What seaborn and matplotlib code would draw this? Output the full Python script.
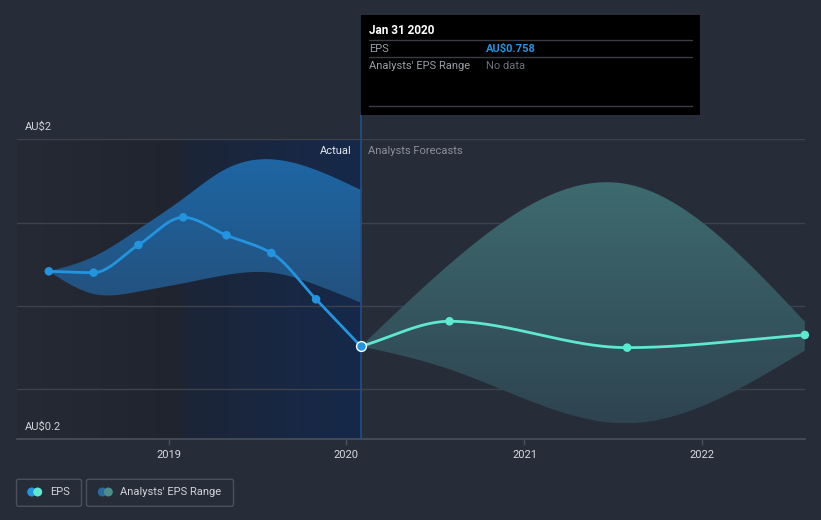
import numpy as np
import pandas as pd
import matplotlib
matplotlib.use("Agg")
import matplotlib.pyplot as plt
import matplotlib.dates as mdates
from matplotlib.patches import FancyBboxPatch, Ellipse, Rectangle
from matplotlib.lines import Line2D
import seaborn as sns

# ---------------- data ----------------
actual_dates = ["2018-04-30", "2018-07-31", "2018-10-31", "2019-01-31",
                "2019-04-30", "2019-07-31", "2019-10-31", "2020-01-31"]
actual_eps = [1.208, 1.200, 1.366, 1.532, 1.424, 1.318, 1.040, 0.758]
actual_low = [1.208, 1.072, 1.086, 1.136, 1.186, 1.200, 1.126, 1.020]
actual_high = [1.208, 1.296, 1.460, 1.644, 1.824, 1.880, 1.816, 1.696]

fc_dates = ["2020-01-31", "2020-07-31", "2021-07-31", "2022-07-31"]
fc_eps = [0.758, 0.908, 0.750, 0.826]
fc_low = [0.758, 0.620, 0.296, 0.732]
fc_high = [0.758, 1.250, 1.731, 0.906]

year_ticks = ["2019-01-01", "2020-01-01", "2021-01-01", "2022-01-01"]
year_labels = ["2019", "2020", "2021", "2022"]
y_labels = ["AU$2", "AU$0.2"]
tooltip_date = "Jan 31 2020"
tooltip_eps = "AU$0.758"

# ---------------- helpers ----------------
def pchip(x, y, xn):
    x = np.asarray(x, float); y = np.asarray(y, float)
    h = np.diff(x); d = np.diff(y) / h
    n = len(x); m = np.zeros(n)
    for k in range(1, n - 1):
        if d[k - 1] * d[k] > 0:
            w1 = 2 * h[k] + h[k - 1]; w2 = h[k] + 2 * h[k - 1]
            m[k] = (w1 + w2) / (w1 / d[k - 1] + w2 / d[k])
    m[0] = d[0]; m[-1] = d[-1]
    idx = np.clip(np.searchsorted(x, xn) - 1, 0, n - 2)
    t = (xn - x[idx]) / h[idx]
    h00 = 2 * t**3 - 3 * t**2 + 1; h10 = t**3 - 2 * t**2 + t
    h01 = -2 * t**3 + 3 * t**2; h11 = t**3 - t**2
    return h00 * y[idx] + h10 * h[idx] * m[idx] + h01 * y[idx + 1] + h11 * h[idx] * m[idx + 1]

def natspline(x, y, xn):
    x = np.asarray(x, float); y = np.asarray(y, float)
    n = len(x); h = np.diff(x)
    A = np.zeros((n, n)); r = np.zeros(n)
    A[0, 0] = 1; A[-1, -1] = 1
    for i in range(1, n - 1):
        A[i, i - 1] = h[i - 1]; A[i, i] = 2 * (h[i - 1] + h[i]); A[i, i + 1] = h[i]
        r[i] = 6 * ((y[i + 1] - y[i]) / h[i] - (y[i] - y[i - 1]) / h[i - 1])
    M = np.linalg.solve(A, r)
    idx = np.clip(np.searchsorted(x, xn) - 1, 0, n - 2)
    xi, xi1, hi = x[idx], x[idx + 1], h[idx]
    return (M[idx] * (xi1 - xn)**3 / (6 * hi) + M[idx + 1] * (xn - xi)**3 / (6 * hi)
            + (y[idx] / hi - M[idx] * hi / 6) * (xi1 - xn)
            + (y[idx + 1] / hi - M[idx + 1] * hi / 6) * (xn - xi))

def hexrgb(c):
    c = c.lstrip("#")
    return np.array([int(c[i:i + 2], 16) / 255 for i in (0, 2, 4)])

ax_num = mdates.date2num(pd.to_datetime(actual_dates))
fc_num = mdates.date2num(pd.to_datetime(fc_dates))
tick_num = mdates.date2num(pd.to_datetime(year_ticks))

xa = np.linspace(ax_num[0], ax_num[-1], 400)
xf = np.linspace(fc_num[0], fc_num[-1], 400)

df_a = pd.DataFrame({"x": xa, "y": pchip(ax_num, actual_eps, xa)})
df_f = pd.DataFrame({"x": xf, "y": pchip(fc_num, fc_eps, xf)})
a_lo = natspline(ax_num, actual_low, xa); a_hi = natspline(ax_num, actual_high, xa)
f_lo = natspline(fc_num, fc_low, xf); f_hi = natspline(fc_num, fc_high, xf)

# ---------------- figure ----------------
BG = "#262c38"
sns.set_style("dark")
plt.rcParams["font.family"] = ["Roboto", "DejaVu Sans"]
fig = plt.figure(figsize=(8.21, 5.2), dpi=100, facecolor=BG)
W, H = 821, 520
L, R, T, B = 17, 805, 139.3, 439.3
ax = fig.add_axes([L / W, 1 - B / H, (R - L) / W, (B - T) / H])
ax.set_facecolor(BG)

x0 = tick_num[0] - (168.6 - L) / 177.8 * 365.25
x1 = tick_num[0] + (R - 168.6) / 177.8 * 365.25
ax.set_xlim(x0, x1)
ax.set_ylim(0.2, 2.0)

def hgrad(ax, xa_, xb_, c1, c2, z=0):
    g = np.linspace(0, 1, 256)[None, :, None]
    img = hexrgb(c1)[None, None, :] * (1 - g) + hexrgb(c2)[None, None, :] * g
    ax.imshow(img, extent=[xa_, xb_, 0.2, 2.0], aspect="auto", zorder=z, origin="lower")

hgrad(ax, x0, ax_num[3], "#252a35", "#20242e")
hgrad(ax, ax_num[3], ax_num[-1], "#1c2537", "#16294a")

for v in [2.0, 1.5, 1.0, 0.5]:
    ax.axhline(v, color="#3c424e", lw=1, zorder=1)

def vgrad_band(ax, x, lo, hi, ctop, cbot, z=2):
    poly = ax.fill_between(x, lo, hi, color="none", lw=0, zorder=z)
    g = np.linspace(0, 1, 256)[:, None, None]
    img = hexrgb(cbot)[None, None, :] * (1 - g) + hexrgb(ctop)[None, None, :] * g
    im = ax.imshow(img, extent=[x.min(), x.max(), lo.min(), hi.max()], aspect="auto",
                   origin="lower", zorder=z)
    im.set_clip_path(poly.get_paths()[0], transform=ax.transData)

vgrad_band(ax, xa, a_lo, a_hi, "#1e66a4", "#23517d")
vgrad_band(ax, xf, f_lo, f_hi, "#3e6b6f", "#2e4450")

ax.axvline(ax_num[-1], ymin=0, ymax=(B - 115) / (B - T), color="#1f4f8a", lw=1.2,
           zorder=3, clip_on=False)

sns.lineplot(data=df_a, x="x", y="y", ax=ax, color="#2394df", lw=2.0, zorder=5)
sns.lineplot(data=df_f, x="x", y="y", ax=ax, color="#5ee8d0", lw=2.0, zorder=5)
pts_a = pd.DataFrame({"x": ax_num[:-1], "y": actual_eps[:-1]})
pts_f = pd.DataFrame({"x": fc_num[1:], "y": fc_eps[1:]})
sns.scatterplot(data=pts_a, x="x", y="y", ax=ax, color="#2394df", s=38,
                edgecolor="none", zorder=6)
sns.scatterplot(data=pts_f, x="x", y="y", ax=ax, color="#5ee8d0", s=38,
                edgecolor="none", zorder=6, clip_on=False)
ax.scatter([ax_num[-1]], [actual_eps[-1]], s=50, color="#2394df",
           edgecolor="white", linewidth=1.0, zorder=7)

for s in ["top", "right", "left"]:
    ax.spines[s].set_visible(False)
ax.spines["bottom"].set_color("#4a505c")
ax.spines["bottom"].set_linewidth(1.2)
ax.set_xticks(tick_num)
ax.set_xticklabels(year_labels)
ax.set_yticks([])
ax.tick_params(axis="x", colors="#4a505c", length=4, width=1, labelcolor="#d8dbe0",
               labelsize=8, pad=4, bottom=True)
ax.set_xlabel(""); ax.set_ylabel("")
ax.grid(False)

def ftext(px, py, s, **kw):
    fig.text(px / W, 1 - py / H, s, **kw)

ftext(25, 127, y_labels[0], color="#d0d3d8", fontsize=8, va="center", ha="left")
ftext(25, 427, y_labels[1], color="#d0d3d8", fontsize=8, va="center", ha="left")
ftext(352, 151, "Actual", color="#e4e7ec", fontsize=8, va="center", ha="right")
ftext(368, 151, "Analysts Forecasts", color="#8b9099", fontsize=8, va="center", ha="left")

fig.patches.append(Rectangle((361 / W, 1 - 115 / H), 339 / W, 100 / H,
                             transform=fig.transFigure, facecolor="#000000",
                             edgecolor="none", zorder=10))
for yy in [40, 57.3, 105.7]:
    fig.add_artist(Line2D([369 / W, 692 / W], [1 - yy / H, 1 - yy / H],
                          transform=fig.transFigure, color="#3a3d44", lw=1, zorder=11))
ftext(369, 31, tooltip_date, color="white", fontsize=8.5, fontweight="bold",
      va="center", zorder=12)
ftext(369, 48.5, "EPS", color="#9aa0a8", fontsize=8, va="center", zorder=12)
ftext(486, 48.5, tooltip_eps, color="#2394df", fontsize=8, fontweight="bold",
      va="center", zorder=12)
ftext(369, 66, "Analysts' EPS Range", color="#9aa0a8", fontsize=8, va="center", zorder=12)
ftext(486, 66, "No data", color="#6c717a", fontsize=8, va="center", zorder=12)

for (bx0, bx1) in [(16.5, 81.5), (86.5, 233.5)]:
    fig.patches.append(FancyBboxPatch((bx0 / W, 1 - 506.3 / H), (bx1 - bx0) / W, 27 / H,
                                      boxstyle="round,pad=0,rounding_size=0.003",
                                      transform=fig.transFigure, facecolor="none",
                                      edgecolor="#4a505c", lw=1))
for cx, col in [(31.7, "#2394df"), (37.7, "#5ee8d0"), (102.3, "#2a6a9e"), (108.3, "#4a8e8a")]:
    fig.patches.append(Ellipse((cx / W, 1 - 492 / H), 9 / W, 9 / H,
                               transform=fig.transFigure, facecolor=col, edgecolor="none"))
ftext(50, 492, "EPS", color="#d0d3d8", fontsize=8, va="center")
ftext(120.5, 492, "Analysts' EPS Range", color="#d0d3d8", fontsize=8, va="center")

fig.savefig("out.png", dpi=100, facecolor=BG)
